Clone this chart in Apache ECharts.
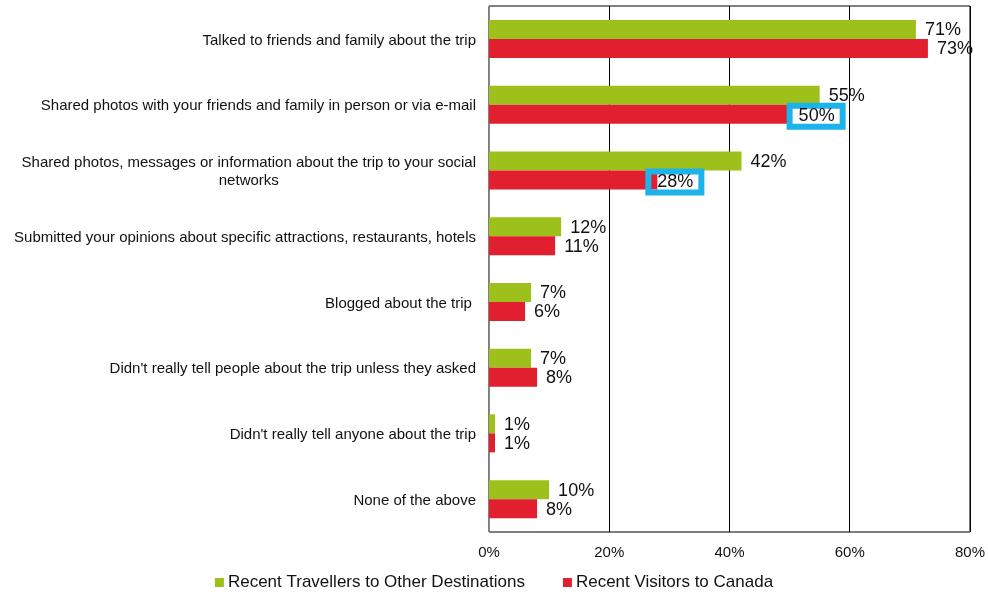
<!DOCTYPE html>
<html>
<head>
<meta charset="utf-8">
<script src="https://cdn.jsdelivr.net/npm/echarts@6/dist/echarts.min.js"></script>
<style>html,body{margin:0;padding:0;background:#fff}#c{width:988px;height:594px}</style>
</head>
<body>
<div id="c"></div>
<script>
const categories = [
  "Talked to friends and family about the trip",
  "Shared photos with your friends and family in person or via e-mail",
  "Shared photos, messages or information about the trip to your social\nnetworks",
  "Submitted your opinions about specific attractions, restaurants, hotels",
  "Blogged about the trip ",
  "Didn't really tell people about the trip unless they asked",
  "Didn't really tell anyone about the trip",
  "None of the above"
];
const seriesNames = ["Recent Travellers to Other Destinations", "Recent Visitors to Canada"];
const otherDestinations = [71, 55, 42, 12, 7, 7, 1, 10];
const visitorsCanada = [73, 50, 28, 11, 6, 8, 1, 8];
const xTicks = [0, 20, 40, 60, 80];
const highlightedCanada = [1, 2];

const chart = echarts.init(document.getElementById('c'), null, {renderer: 'canvas'});
const FONT = '"Liberation Sans", Arial, sans-serif';
const GREEN = '#9DC11A';
const RED = '#E21F2F';

const valueLabel = {
  show: true, position: 'right', distance: 9, offset: [0, 1],
  formatter: p => p.value + '%',
  fontFamily: FONT, fontSize: 18, color: '#111'
};

const canadaData = visitorsCanada.map((v, i) => {
  if (highlightedCanada.indexOf(i) >= 0) {
    return {
      value: v,
      label: {
        distance: 0,
        offset: i === 2 ? [-9, 2] : [0, 2],
        borderColor: '#1BB3EA', borderWidth: 3,
        padding: [2, 8, 1, 9], lineHeight: 18,
        backgroundColor: 'transparent'
      }
    };
  }
  return v;
});

chart.setOption({
  animation: false,
  backgroundColor: '#fff',
  grid: {left: 489, right: 18, top: 6, bottom: 62, show: true, borderColor: '#000', borderWidth: 1},
  legend: {
    top: 569, left: 'center',
    itemWidth: 9, itemHeight: 9, itemGap: 38,
    icon: 'rect',
    textStyle: {fontFamily: FONT, fontSize: 17, color: '#111', padding: [0, 0, 0, -1]},
    data: seriesNames
  },
  xAxis: {
    type: 'value', min: xTicks[0], max: xTicks[xTicks.length - 1], interval: 20,
    axisLine: {show: false}, axisTick: {show: false},
    splitLine: {lineStyle: {color: '#000', width: 1}},
    axisLabel: {formatter: v => v + '%', fontFamily: FONT, fontSize: 15, color: '#111', margin: 13}
  },
  yAxis: {
    type: 'category', data: categories, inverse: true,
    axisLine: {show: true, lineStyle: {color: '#888'}},
    axisTick: {show: false},
    axisLabel: {
      margin: 13, fontFamily: FONT, fontSize: 15, color: '#111', align: 'right',
      formatter: v => v.split('\n').map(s => '{c|' + s + '}').join('\n'),
      rich: {c: {align: 'center', fontFamily: FONT, fontSize: 15, color: '#111', lineHeight: 18, padding: [3, 0, 0, 0]}}
    }
  },
  series: [
    {name: seriesNames[0], type: 'bar', data: otherDestinations, barWidth: 19, barGap: '0%',
     itemStyle: {color: GREEN}, label: valueLabel},
    {name: seriesNames[1], type: 'bar', data: canadaData, barWidth: 19, barGap: '0%',
     itemStyle: {color: RED}, label: valueLabel}
  ]
});
</script>
</body>
</html>
